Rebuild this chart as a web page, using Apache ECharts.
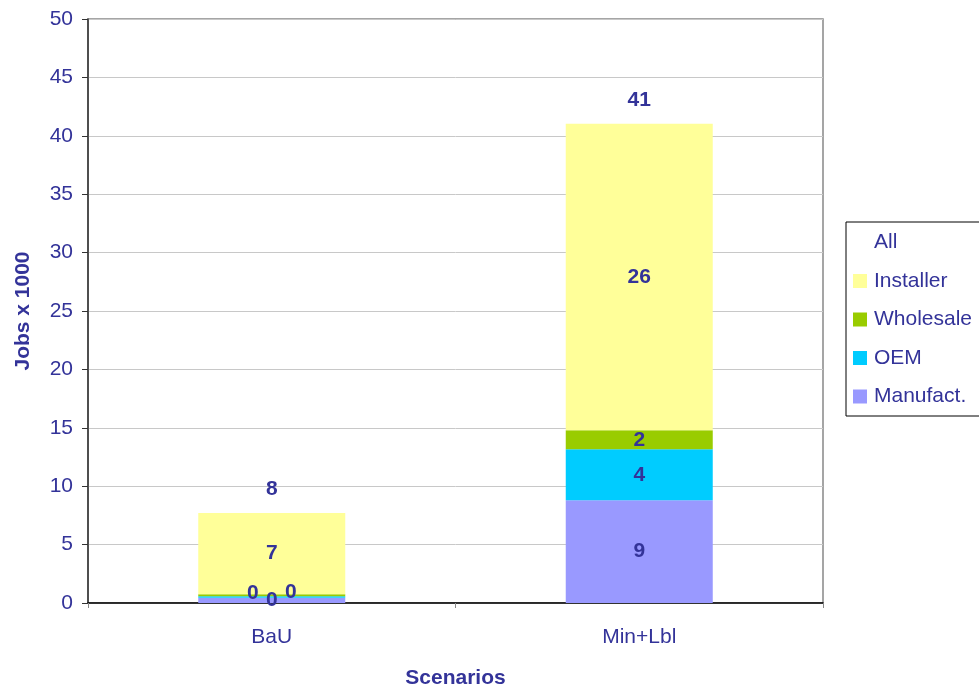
<!DOCTYPE html>
<html>
<head>
<meta charset="utf-8">
<script src="https://cdn.jsdelivr.net/npm/echarts@6/dist/echarts.min.js"></script>
<style>
  html, body { margin: 0; padding: 0; background: #fff; }
  #chart { width: 979px; height: 695px; }
</style>
</head>
<body>
<div id="chart"></div>
<script>
// Jobs (x 1000) per scenario, broken down by part of the supply chain
const categories = ['BaU', 'Min+Lbl'];
const manufact = [0.45, 8.8];
const oem = [0.12, 4.36];
const wholesale = [0.18, 1.63];
const installer = [6.95, 26.24];
const yTicks = { min: 0, max: 50, interval: 5 };

const totals = categories.map((_, i) => manufact[i] + oem[i] + wholesale[i] + installer[i]);

const textColor = '#333399';
const fontFamily = '"Liberation Sans", Arial, sans-serif';
const fs = 21;

const labelStyle = {
  show: true,
  position: 'inside',
  color: textColor,
  fontWeight: 'bold',
  fontSize: fs,
  fontFamily: fontFamily,
  formatter: p => Math.round(p.value)
};

// In the small BaU bar the three bottom labels would overlap, so they are nudged apart
function withOffsets(values, offsets) {
  return values.map((v, i) => offsets[i]
    ? { value: v, label: { offset: offsets[i] } }
    : v);
}

const chart = echarts.init(document.getElementById('chart'));
chart.setOption({
  animation: false,
  backgroundColor: '#ffffff',
  textStyle: { fontFamily: fontFamily },
  grid: {
    left: 88, right: 156, top: 19, bottom: 92,
    show: true, borderColor: '#888888', borderWidth: 1.5
  },
  legend: {
    orient: 'vertical',
    left: 846, top: 222,
    padding: [10, 40, 9, 7],
    itemGap: 17.5,
    itemWidth: 14, itemHeight: 14,
    borderColor: '#000000', borderWidth: 1,
    backgroundColor: '#ffffff',
    textStyle: { color: textColor, fontSize: fs, lineHeight: 20, fontFamily: fontFamily, padding: [0, 0, 0, 2] },
    data: [
      { name: 'All', icon: 'rect', itemStyle: { color: 'rgba(0,0,0,0)', borderWidth: 0 } },
      { name: 'Installer', icon: 'rect' },
      { name: 'Wholesale', icon: 'rect' },
      { name: 'OEM', icon: 'rect' },
      { name: 'Manufact.', icon: 'rect' }
    ]
  },
  xAxis: {
    type: 'category',
    data: categories,
    name: 'Scenarios',
    nameLocation: 'middle',
    nameGap: 65,
    nameTextStyle: { color: textColor, fontWeight: 'bold', fontSize: fs, fontFamily: fontFamily },
    axisLine: { lineStyle: { color: '#000000', width: 1.5 } },
    axisTick: { show: true, length: 5, lineStyle: { color: '#888888' } },
    axisLabel: { color: textColor, fontSize: fs, margin: 24, fontFamily: fontFamily },
    splitLine: { show: false }
  },
  yAxis: {
    type: 'value',
    min: yTicks.min, max: yTicks.max, interval: yTicks.interval,
    name: 'Jobs x 1000',
    nameLocation: 'middle',
    nameGap: 54,
    nameTextStyle: { color: textColor, fontWeight: 'bold', fontSize: fs, fontFamily: fontFamily },
    axisLine: { show: true, lineStyle: { color: '#333333', width: 1.5 } },
    axisTick: { show: true, length: 6, lineStyle: { color: '#333333' } },
    axisLabel: { color: textColor, fontSize: fs, margin: 15, fontFamily: fontFamily },
    splitLine: { show: true, lineStyle: { color: '#c8c8c8', width: 1 } }
  },
  series: [
    {
      name: 'Manufact.', type: 'bar', stack: 'jobs', barWidth: '40%',
      itemStyle: { color: '#9999ff' },
      label: labelStyle,
      data: withOffsets(manufact, [[0, 0]])
    },
    {
      name: 'OEM', type: 'bar', stack: 'jobs',
      itemStyle: { color: '#00ccff' },
      label: labelStyle,
      data: withOffsets(oem, [[-19, -4]])
    },
    {
      name: 'Wholesale', type: 'bar', stack: 'jobs',
      itemStyle: { color: '#99cc00' },
      label: labelStyle,
      data: withOffsets(wholesale, [[19, -3]])
    },
    {
      name: 'Installer', type: 'bar', stack: 'jobs',
      itemStyle: { color: '#ffff99' },
      label: labelStyle,
      data: installer
    },
    {
      // Invisible series carrying the scenario totals as labels above each stack
      name: 'All', type: 'line',
      symbol: 'circle', symbolSize: 1, showSymbol: true,
      lineStyle: { opacity: 0 },
      itemStyle: { color: 'rgba(0,0,0,0)' },
      label: {
        show: true, position: 'top', distance: 13,
        color: textColor, fontWeight: 'bold', fontSize: fs, fontFamily: fontFamily,
        formatter: p => Math.round(p.value)
      },
      data: totals
    }
  ]
});
</script>
</body>
</html>
